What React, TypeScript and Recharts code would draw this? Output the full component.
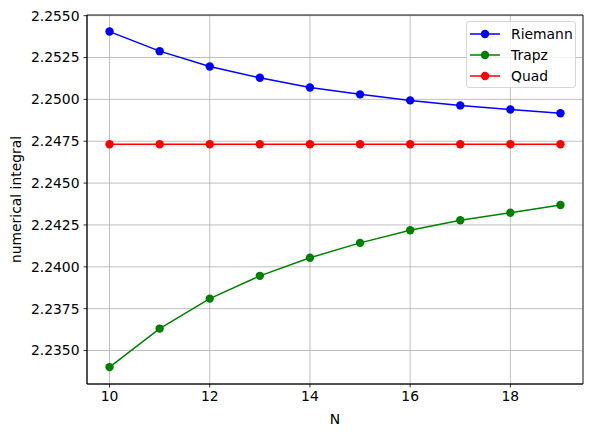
import React from 'react';
import { LineChart, Line, XAxis, YAxis, CartesianGrid, ReferenceArea } from 'recharts';

const nValues = [10, 11, 12, 13, 14, 15, 16, 17, 18, 19];
const riemann = [2.25405, 2.25288, 2.25196, 2.25129, 2.25071, 2.2503, 2.24994, 2.24964, 2.2494, 2.24917];
const trapz = [2.23401, 2.23631, 2.2381, 2.23946, 2.24054, 2.24143, 2.24218, 2.24278, 2.24323, 2.24369];
const quad = [2.24732, 2.24732, 2.24732, 2.24732, 2.24732, 2.24732, 2.24732, 2.24732, 2.24732, 2.24732];
const xTicks = [10, 12, 14, 16, 18];
const yTicks = [2.235, 2.2375, 2.24, 2.2425, 2.245, 2.2475, 2.25, 2.2525, 2.255];
const xDomain: [number, number] = [9.55, 19.45];
const yDomain: [number, number] = [2.233, 2.25504];

const series = [
  { key: 'Riemann', values: riemann, color: '#0000ff' },
  { key: 'Trapz', values: trapz, color: '#008000' },
  { key: 'Quad', values: quad, color: '#ff0000' },
];

const data = nValues.map((n, i) => {
  const row: Record<string, number> = { N: n };
  series.forEach((s) => (row[s.key] = s.values[i]));
  return row;
});

const FONT = '"DejaVu Sans", sans-serif';
const FS = 13.9;

export default function App() {
  return (
    <div style={{ position: 'absolute', left: 0, top: 0, width: 593, height: 437, background: '#fff', fontFamily: FONT }}>
      <LineChart width={593} height={437} data={data} margin={{ top: 15, right: 10, bottom: 0, left: 0 }}>
        <CartesianGrid stroke="#b0b0b0" strokeWidth={0.8} />
        <XAxis
          dataKey="N"
          type="number"
          domain={xDomain}
          ticks={xTicks}
          height={53}
          tickSize={3.5}
          tickMargin={4}
          axisLine={{ stroke: '#000', strokeWidth: 0.8 }}
          tickLine={{ stroke: '#000', strokeWidth: 0.8 }}
          tick={{ fill: '#000', fontSize: FS, fontFamily: FONT }}
          label={(props: any) => {
            const vb = props.viewBox || { x: 87, width: 496, y: 384 };
            return (
              <text x={vb.x + vb.width / 2} y={419} textAnchor="middle" dominantBaseline="central" fontSize={FS} fontFamily={FONT} fill="#000">
                N
              </text>
            );
          }}
        />
        <YAxis
          type="number"
          domain={yDomain}
          ticks={yTicks}
          width={87}
          tickSize={3.5}
          tickMargin={4}
          tickFormatter={(v: number) => v.toFixed(4)}
          axisLine={{ stroke: '#000', strokeWidth: 0.8 }}
          tickLine={{ stroke: '#000', strokeWidth: 0.8 }}
          tick={{ fill: '#000', fontSize: FS, fontFamily: FONT }}
          label={(props: any) => {
            const vb = props.viewBox || { y: 15, height: 369 };
            const cy = vb.y + vb.height / 2;
            return (
              <text x={16} y={cy} textAnchor="middle" dominantBaseline="central" transform={`rotate(-90 16 ${cy})`} fontSize={FS} fontFamily={FONT} fill="#000">
                numerical integral
              </text>
            );
          }}
        />
        <ReferenceArea x1={xDomain[0]} x2={xDomain[1]} y1={yDomain[0]} y2={yDomain[1]} fill="none" stroke="#000" strokeWidth={0.8} ifOverflow="visible" />
        {series.map((s) => (
          <Line
            key={s.key}
            dataKey={s.key}
            stroke={s.color}
            strokeWidth={1.5}
            dot={{ r: 4.2, fill: s.color, stroke: s.color, strokeWidth: 0 }}
            activeDot={false}
            isAnimationActive={false}
          />
        ))}
      </LineChart>
      <div
        style={{
          position: 'absolute',
          left: 466,
          top: 21,
          width: 110,
          height: 67,
          boxSizing: 'border-box',
          border: '1px solid #d6d6d6',
          borderRadius: 3,
          background: 'rgba(255,255,255,0.8)',
        }}
      >
        {series.map((s, i) => (
          <div key={s.key} style={{ position: 'absolute', left: 0, top: 3 + i * 21, height: 20, width: 108 }}>
            <svg width={40} height={20} style={{ position: 'absolute', left: 2, top: 0 }}>
              <line x1={1} x2={31} y1={9} y2={9} stroke={s.color} strokeWidth={1.5} />
              <circle cx={16} cy={9} r={4.2} fill={s.color} />
            </svg>
            <span style={{ position: 'absolute', left: 44, top: 0, lineHeight: '18px', fontSize: FS, fontFamily: FONT, color: '#000' }}>
              {s.key}
            </span>
          </div>
        ))}
      </div>
    </div>
  );
}
